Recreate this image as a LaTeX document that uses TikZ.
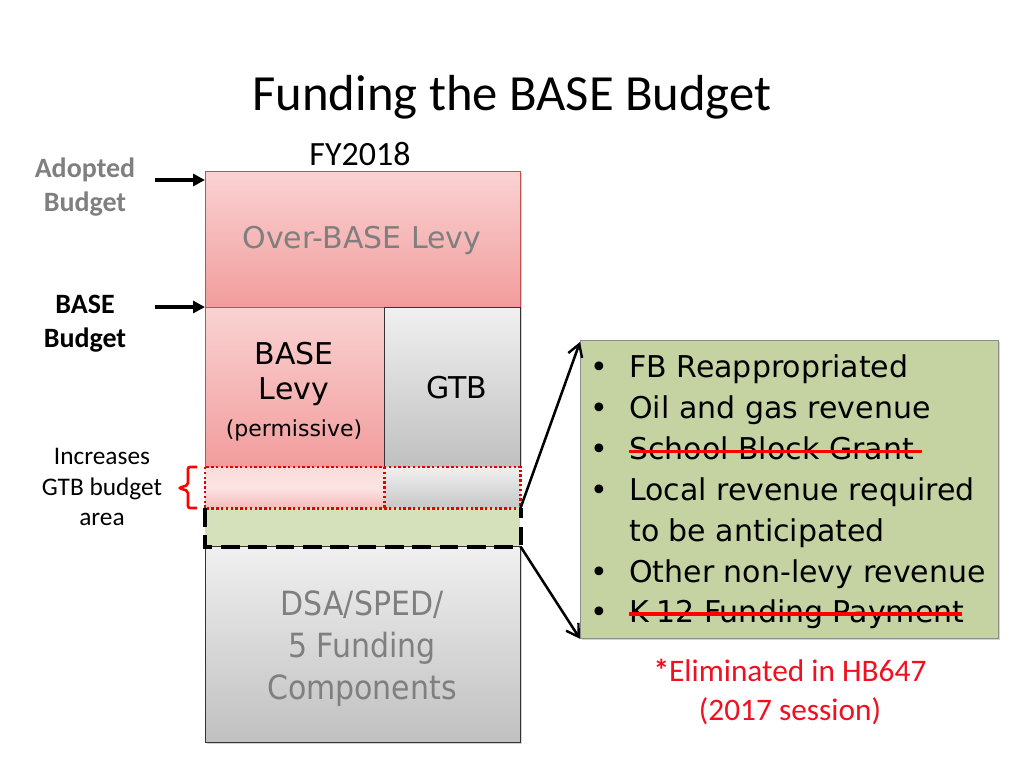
\documentclass[tikz,border=0pt]{standalone}
\usepackage{fontspec}
\setmainfont{Carlito}
\newfontfamily\tah{DejaVu Sans}
\newfontfamily\tahc{DejaVu Sans Condensed}
\usetikzlibrary{arrows.meta,shadows}
\definecolor{pinkT}{HTML}{FAD2D2}
\definecolor{pinkB}{HTML}{F29C9C}
\definecolor{grayT}{HTML}{F0F0F0}
\definecolor{grayB}{HTML}{C0C0C0}
\definecolor{stripG}{HTML}{D5E1BA}
\definecolor{listG}{HTML}{C5D3A2}
\definecolor{boxRed}{HTML}{C0504D}
\definecolor{txtGray}{HTML}{7F7F7F}
\definecolor{elimRed}{HTML}{F01020}
\tikzset{
  px/.style={x=0.75pt,y=-0.75pt},
  box/.style={draw, line width=0.6pt, inner sep=0pt, anchor=north west,
    drop shadow={opacity=0.35, shadow xshift=1.2pt, shadow yshift=-1.2pt}},
  pinkbox/.style={box, draw=boxRed, top color=pinkT, bottom color=pinkB},
  graybox/.style={box, draw=black!80, top color=grayT, bottom color=grayB},
  incbox/.style={draw=none, inner sep=0pt, anchor=north west},
  boxtxt/.style={font=\tah\fontsize{22.5}{27}\selectfont, align=center, inner sep=0pt},
  listtxt/.style={font=\tah\fontsize{22.5}{26}\selectfont, anchor=base west, inner sep=0pt},
  sidetxt/.style={font=\bfseries\fontsize{21}{25.5}\selectfont, align=center, inner sep=0pt},
  budgetarrow/.style={-{Triangle[length=9pt,width=9pt]}, line width=3pt},
  linkarrow/.style={-{Straight Barb[length=9pt,width=11pt,line width=1.8pt]}, line width=1.9pt},
  redot/.style={draw=red!90!black, line width=2.2pt, dash pattern=on 1.8pt off 1.8pt},
  blackdash/.style={draw=black, line width=3pt, dash pattern=on 14pt off 6.5pt},
  strike/.style={draw=red, line width=2.6pt},
  bracestyle/.style={draw=red, line width=2pt, rounded corners=1.5pt},
}
\begin{document}
\begin{tikzpicture}[px]
\useasboundingbox (0,0) rectangle (1024,768);
% title
\node[font=\fontsize{38}{44}\selectfont, inner sep=0pt] (title) at (512,97) {Funding the BASE Budget};
\node[font=\fontsize{25.5}{28}\selectfont, inner sep=0pt] (fy) at (360,154) {FY2018};
% side labels
\node[sidetxt, text=txtGray] (adopted) at (85,187) {Adopted\\Budget};
\node[sidetxt] (basebud) at (85,324) {BASE\\Budget};
\node[font=\fontsize{19}{23}\selectfont, align=center, inner sep=0pt] (incr) at (102,487) {Increases\\GTB budget\\area};
% boxes
\node[pinkbox, minimum width=315*0.75pt, minimum height=136*0.75pt] (over) at (205,171) {};
\node[pinkbox, minimum width=179*0.75pt, minimum height=160*0.75pt] (base) at (205,307) {};
\node[graybox, minimum width=136*0.75pt, minimum height=160*0.75pt] (gtb) at (384,307) {};
\node[incbox, top color=pinkT!80, bottom color=pinkB!70, middle color=pinkT!60, minimum width=179*0.75pt, minimum height=41*0.75pt] (incL) at (205,467) {};
\node[incbox, top color=grayT, bottom color=grayB!90, minimum width=136*0.75pt, minimum height=41*0.75pt] (incR) at (384,467) {};
\node[incbox, fill=stripG, minimum width=315*0.75pt, minimum height=38*0.75pt] (strip) at (205,508) {};
\node[graybox, minimum width=315*0.75pt, minimum height=196*0.75pt] (dsa) at (205,546) {};
% dotted red outline of increase strip
\draw[redot] (incL.north west) rectangle (incR.south east);
\draw[redot] (incL.north east) -- (incL.south east);
% dashed black outline of green strip
\draw[blackdash] (strip.north west) -- (strip.south west) -- (strip.south east) -- (strip.north east);
% box texts
\node[boxtxt, text=txtGray] (overtxt) at (362,240) {Over-BASE Levy};
\node[boxtxt] (basetxt) at (294,374) {BASE\\[-1pt]Levy};
\node[font=\tah\fontsize{16.5}{20}\selectfont, inner sep=0pt] (perm) at (294,430) {(permissive)};
\node[boxtxt] (gtbtxt) at (457,388) {GTB};
\node[boxtxt, text=txtGray, font=\tahc\fontsize{25}{31.5}\selectfont] (dsatxt) at (362,649) {DSA/SPED/\\5 Funding\\Components};
% arrows to budget lines
\coordinate (a1) at (155,180);
\coordinate (a2) at (155,307);
\draw[budgetarrow] (a1) -- (over.north west |- a1);
\draw[budgetarrow] (a2) -- (base.north west);
% brace
\coordinate (brT) at (197,467);
\coordinate (brB) at (197,508);
\draw[bracestyle] (brT) -- (188,467) -- (188,485) -- (179,488) -- (188,491) -- (188,508) -- (brB);
% list box
\node[box, draw=black!45, fill=listG, minimum width=418*0.75pt, minimum height=298*0.75pt] (list) at (580,340) {};
\draw[linkarrow] (strip.north east) -- ([yshift=-1.5pt]list.north west);
\draw[linkarrow] (strip.south east) -- (list.south west);
% list items
\foreach \yy/\nm/\tx in {377/l1/FB Reappropriated, 418/l2/Oil and gas revenue, 459/l3/School Block Grant, 500/l4/Local revenue required, 582/l6/Other non-levy revenue, 622/l7/K-12 Funding Payment}{
  \node[listtxt] (b\nm) at (590,\yy) {\textbullet};
  \node[listtxt] (\nm) at (629,\yy) {\tx};
}
\node[listtxt] (l5) at (629,541) {to be anticipated};
\draw[strike] ([yshift=5.5pt]l3.base west) -- ([xshift=6pt,yshift=5.5pt]l3.base east);
\draw[strike] ([yshift=6pt]l7.base west) -- ([xshift=-2pt,yshift=6pt]l7.base east);
% eliminated note
\node[font=\fontsize{23.5}{29}\selectfont, text=elimRed, align=center, inner sep=0pt] (elim) at (790,692) {\textbf{*}Eliminated in HB647\\(2017 session)};
\end{tikzpicture}
\end{document}
